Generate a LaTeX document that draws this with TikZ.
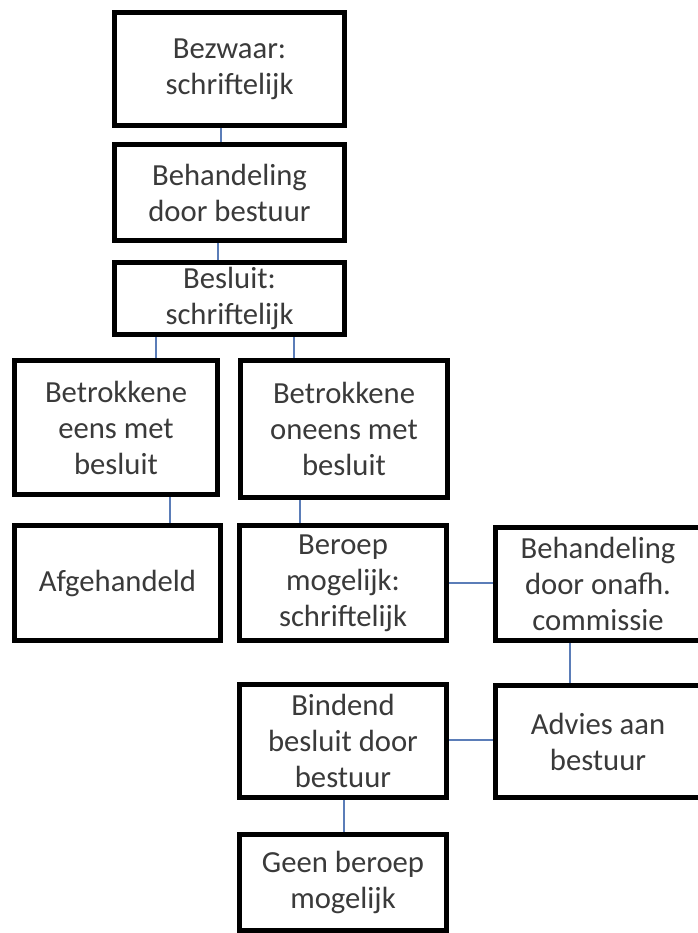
\documentclass[tikz,border=0pt]{standalone}
\usepackage{fontspec}
\setmainfont{Carlito}
\definecolor{txt}{HTML}{3A3A3A}
\definecolor{conn}{HTML}{5B7DB8}
\begin{document}
\begin{tikzpicture}[x=0.75pt,y=-0.75pt,
  boxnode/.style={draw=black,line width=3.75pt,fill=white,align=center,inner sep=0pt,
    text=txt,font=\fontsize{23}{27}\selectfont},
  link/.style={draw=conn,line width=1.1pt}]
\useasboundingbox (0,0) rectangle (698,933);
\clip (0,0) rectangle (698,933);
% boxes (outer size minus 5px border)
\node[boxnode,minimum width=230*0.75pt,minimum height=113*0.75pt] (b1) at (229.5,69) {Bezwaar:\\schriftelijk};
\node[boxnode,minimum width=230*0.75pt,minimum height=96*0.75pt] (b2) at (229.5,192.5) {Behandeling\\door bestuur};
\node[boxnode,minimum width=230*0.75pt,minimum height=72*0.75pt] (b3) at (229.5,298.5) {Besluit:\\schriftelijk};
\node[boxnode,minimum width=203*0.75pt,minimum height=134*0.75pt] (b4) at (116,427.5) {Betrokkene\\eens met\\besluit};
\node[boxnode,minimum width=207*0.75pt,minimum height=137*0.75pt] (b5) at (344,429) {Betrokkene\\oneens met\\besluit};
\node[boxnode,minimum width=206*0.75pt,minimum height=115*0.75pt] (b6) at (117.5,583) {Afgehandeld};
\node[boxnode,minimum width=207*0.75pt,minimum height=115*0.75pt] (b7) at (343,583) {Beroep\\mogelijk:\\schriftelijk};
\node[boxnode,minimum width=205*0.75pt,minimum height=113*0.75pt] (b8) at (598,584) {Behandeling\\door onafh.\\commissie};
\node[boxnode,minimum width=207*0.75pt,minimum height=113*0.75pt] (b9) at (343,741) {Bindend\\besluit door\\bestuur};
\node[boxnode,minimum width=205*0.75pt,minimum height=112*0.75pt] (b10) at (598,741.5) {Advies aan\\bestuur};
\node[boxnode,minimum width=207*0.75pt,minimum height=96*0.75pt] (b11) at (343,882.5) {Geen beroep\\mogelijk};
% connectors
\draw[link] (221,0 |- b1.south) -- (221,0 |- b2.north);
\draw[link] (218,0 |- b2.south) -- (218,0 |- b3.north);
\draw[link] (156,0 |- b3.south) -- (156,0 |- b4.north);
\draw[link] (294,0 |- b3.south) -- (294,0 |- b5.north);
\draw[link] (170,0 |- b4.south) -- (170,0 |- b6.north);
\draw[link] (300,0 |- b5.south) -- (300,0 |- b7.north);
\draw[link] (b7.east |- 0,583) -- (b8.west |- 0,583);
\draw[link] (570,0 |- b8.south) -- (570,0 |- b10.north);
\draw[link] (b9.east |- 0,740) -- (b10.west |- 0,740);
\draw[link] (344,0 |- b9.south) -- (344,0 |- b11.north);
\end{tikzpicture}
\end{document}
